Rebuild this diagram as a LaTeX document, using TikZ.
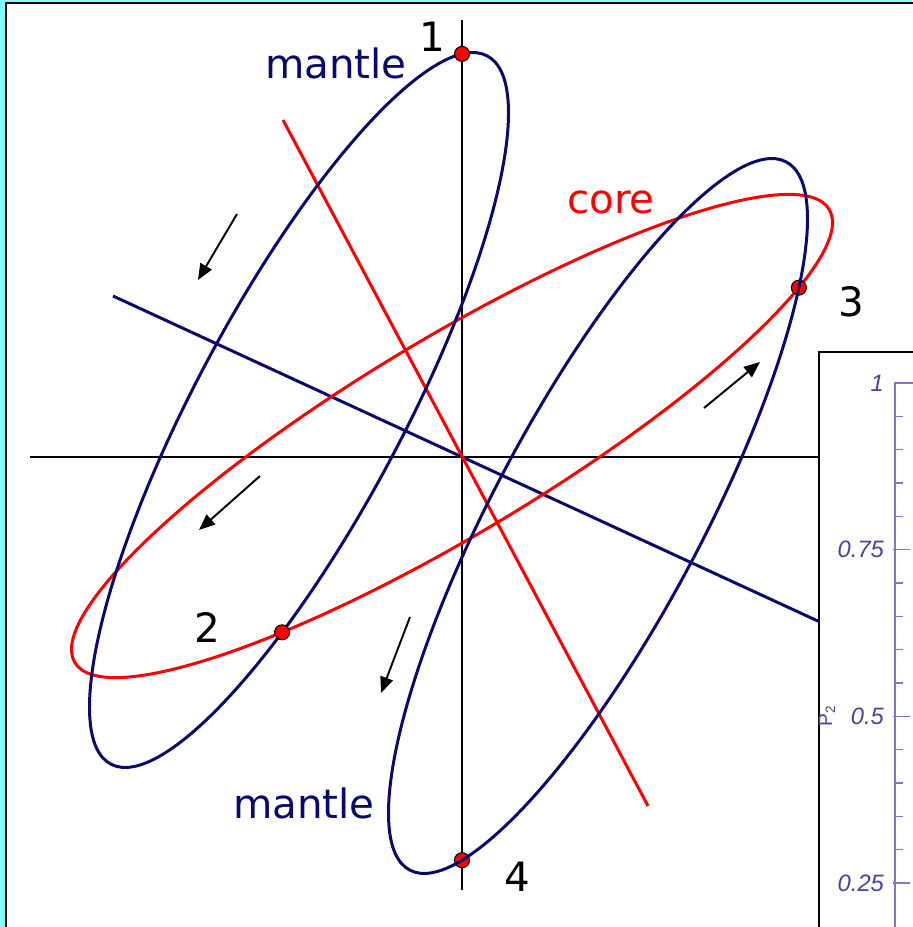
\documentclass[tikz,border=0pt]{standalone}
\usepackage{fontspec}
\setmainfont{DejaVu Sans}
\newfontfamily\plotfont{Liberation Sans}
\usetikzlibrary{arrows.meta,intersections}
\definecolor{mantleblue}{RGB}{10,10,110}
\definecolor{bgcyan}{RGB}{128,255,255}
\definecolor{plotaxis}{RGB}{120,120,210}
\definecolor{plottext}{RGB}{70,70,150}

\begin{document}
\begin{tikzpicture}[
  every node/.style={font=\fontsize{23}{25}\selectfont},
  mantle/.style={draw=mantleblue,line width=1.7pt},
  core/.style={draw=red,line width=1.7pt},
  axisline/.style={draw=black,line width=1.1pt},
  dot/.style={circle,fill=red,draw=black,line width=0.6pt,inner sep=0pt,minimum size=0.3cm},
  ar/.style={-{Triangle[length=3.2mm,width=2.6mm]},line width=1.1pt},
  ticklab/.style={font=\plotfont\itshape\fontsize{13.5}{15}\selectfont,text=plottext,anchor=east,inner sep=1pt}]
\useasboundingbox (-9.24,-9.40) rectangle (9.0,9.14);
\fill[bgcyan] (-9.24,-9.40) rectangle (9.0,9.14);
\draw[line width=1.1pt,fill=white] (-9.12,9.08) rectangle (9.3,-9.7);
\coordinate (cA) at (-3.26,0.94);
\coordinate (cB) at (2.72,-1.18);
\coordinate (cC) at (-0.2,0.42);
\draw[axisline,name path=vaxis] (0,8.74) -- (0,-8.66);
\draw[axisline] (-8.64,0) -- (7.16,0);
\draw[mantle] (-6.98,3.22) -- (7.16,-3.30);
\draw[core] (-3.58,6.74) -- (3.72,-6.98);
\draw[core,name path=coreE,rotate around={31:(cC)}] (cC) ellipse [x radius=8.8,y radius=1.95];
\draw[mantle,name path=mantleA,rotate around={62:(cA)}] (cA) ellipse [x radius=8.02,y radius=2.08];
\path[name path=mantleB,rotate around={62:(cB)}] (cB) ellipse [x radius=8.02,y radius=2.08];
\draw[ar] (-4.5,4.86) -- (-5.28,3.54);
\draw[ar] (-4.04,-0.38) -- (-5.26,-1.46);
\draw[ar] (-1.04,-3.2) -- (-1.62,-4.72);
\draw[ar] (4.84,0.98) -- (5.96,1.9);
\path[name intersections={of=vaxis and mantleA,sort by=vaxis,name=iA}] (iA-1) node[dot] (pt1) {};
\path[name intersections={of=coreE and mantleA,sort by=coreE,name=iC,total=\nC}] (iC-\nC) node[dot] (pt2) {};
\path[name intersections={of=coreE and mantleB,sort by=coreE,name=iD,total=\nD}] (iD-\nD) node[dot] (pt3) {};
\path[name intersections={of=vaxis and mantleB,sort by=vaxis,name=iB,total=\nB}] (iB-\nB) node[dot] (pt4) {};
\draw[mantle,rotate around={62:(cB)}] (cB) ellipse [x radius=8.02,y radius=2.08];
\node[text=mantleblue] (mantletop) at (-2.52,7.88) {mantle};
\node (lab1) at (-0.6,8.4) {1};
\node[text=red] (corelab) at (2.98,5.1) {core};
\node (lab3) at (7.78,3.1) {3};
\node (lab2) at (-5.1,-3.42) {2};
\node[text=mantleblue] (mantlebot) at (-3.16,-6.92) {mantle};
\node (lab4) at (1.1,-8.4) {4};
\draw[line width=1pt,fill=white] (7.14,2.1) rectangle (9.3,-9.7);
\draw[plotaxis,line width=0.8pt] (9.3,1.48) -- (8.66,1.48) -- (8.66,-9.7);
\foreach \k [evaluate=\k as \y using 1.48-\k*0.66667] in {1,...,15}
  \draw[plotaxis,line width=0.8pt] (8.66,\y) -- ++(0.15,0);
\foreach \k [evaluate=\k as \y using 1.48-\k*0.66667] in {5,10,15}
  \draw[plotaxis,line width=0.8pt] (8.62,\y) -- ++(0.34,0);
\foreach \v/\k [evaluate=\k as \y using 1.48-\k*0.66667] in {1/0,0.75/5,0.5/10,0.25/15}
  \node[ticklab] (tick\k) at (8.48,\y) {\v};
\node[font=\plotfont\fontsize{11}{12}\selectfont,text=plottext,rotate=90] (p2lab) at (7.3,-5.18) {P\textsubscript{2}};
\end{tikzpicture}
\end{document}
